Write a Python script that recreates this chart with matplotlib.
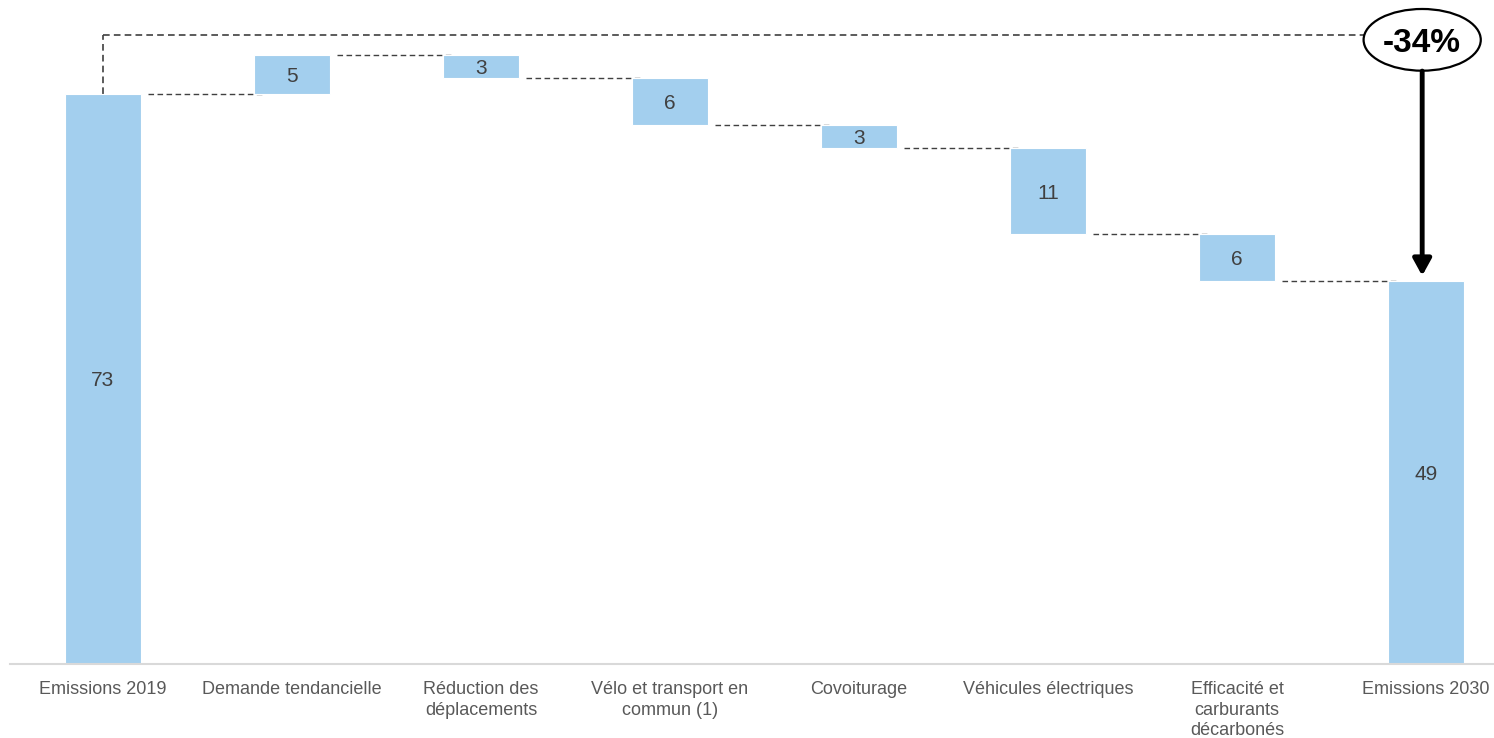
import matplotlib
matplotlib.use("Agg")
import matplotlib.pyplot as plt
from matplotlib.patches import Ellipse
import numpy as np

plt.rcParams['font.family'] = ['Liberation Sans', 'DejaVu Sans']

categories = ["Emissions 2019", "Demande tendancielle", "Réduction des\ndéplacements",
              "Vélo et transport en\ncommun (1)", "Covoiturage", "Véhicules électriques",
              "Efficacité et\ncarburants\ndécarbonés", "Emissions 2030"]
values = [73, 5, -3, -6, -3, -11, -6, 49]
labels = ["73", "5", "3", "6", "3", "11", "6", "49"]
change_label = "-34%"

bar_color = "#A3CFEE"
fig = plt.figure(figsize=(14.94, 7.38), dpi=100)
ax = fig.add_axes([10/1494, 74/738, 1484/1494, 664/738])

n = len(values)
x = np.arange(n)
w = 0.4
bottoms, heights, levels = [], [], []
cum = 0
for i, v in enumerate(values):
    if i == 0 or i == n - 1:
        b, h = 0, v
        cum = v
    else:
        b = cum if v > 0 else cum + v
        h = abs(v)
        cum += v
    bottoms.append(b); heights.append(h); levels.append(cum)

ax.bar(x, heights, bottom=bottoms, width=w, color=bar_color, edgecolor='white', linewidth=0.8, zorder=2)
for i in range(n):
    ax.text(x[i], bottoms[i] + heights[i] / 2, labels[i], ha='center', va='center_baseline',
            fontsize=15, color='#404040', zorder=3)

# connectors
for i in range(n - 1):
    ax.plot([x[i] + w/2 + 0.04, x[i+1] - w/2 + 0.04], [levels[i], levels[i]],
            ls=(0, (4, 2.5)), color='#404040', lw=1, zorder=1)

# top bracket
top_y = 80.5
ax.plot([x[0], x[0]], [values[0], top_y], ls=(0, (4, 2.5)), color='#404040', lw=1.2, zorder=1)
ax.plot([x[0], x[-1] - 0.33], [top_y, top_y], ls=(0, (4, 2.5)), color='#404040', lw=1.2, zorder=1)

ell = Ellipse((x[-1] - 0.02, 79.9), 0.62, 7.9, facecolor='white', edgecolor='black', lw=1.6, zorder=4)
ax.add_patch(ell)
ax.text(x[-1] - 0.02, 79.9, change_label, ha='center', va='center_baseline', fontsize=24,
        fontweight='bold', color='black', zorder=5)
ax.annotate("", xy=(x[-1] - 0.02, values[-1] + 0.7), xytext=(x[-1] - 0.02, 75.9),
            arrowprops=dict(arrowstyle='-|>,head_length=1.0,head_width=0.55', color='black', lw=3.5,
                            shrinkA=0, shrinkB=0), zorder=5)

ax.set_xlim(-0.492, 7.36)
ax.set_ylim(0, 85)
for s in ['top', 'right', 'left']:
    ax.spines[s].set_visible(False)
ax.spines['bottom'].set_color('#D9D9D9')
ax.spines['bottom'].set_linewidth(1.5)
ax.set_yticks([])
ax.set_xticks(x)
ax.set_xticklabels(categories, fontsize=13, color='#595959', linespacing=1.3)
ax.tick_params(axis='x', length=0, pad=12)

fig.savefig("out.png", dpi=100)
